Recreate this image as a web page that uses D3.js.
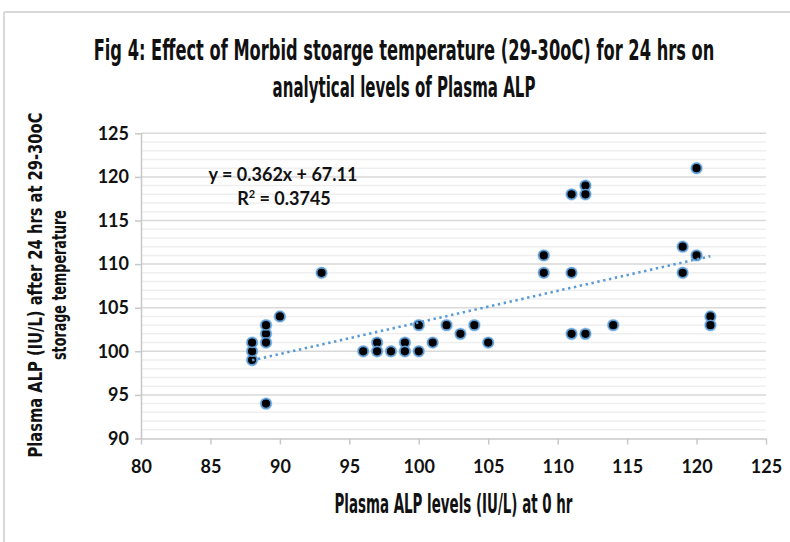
<!DOCTYPE html>
<html>
<head>
<meta charset="utf-8">
<script src="https://cdn.jsdelivr.net/npm/d3@7"></script>
<style>
  body { margin: 0; background: #fff; }
  svg { display: block; }
</style>
</head>
<body>
<div id="chart"></div>
<script>
// values
var xValues = [88, 88, 88, 89, 89, 89, 89, 90, 93, 96, 97, 97, 98, 99, 99, 100, 100, 101, 102, 103, 104, 105, 109, 109, 111, 111, 111, 112, 112, 112, 114, 119, 119, 120, 120, 121, 121];
var yValues = [99, 100, 101, 94, 102, 101, 103, 104, 109, 100, 101, 100, 100, 101, 100, 103, 100, 101, 103, 102, 103, 101, 111, 109, 118, 109, 102, 119, 118, 102, 103, 112, 109, 121, 111, 104, 103];
var xTicks = [80, 85, 90, 95, 100, 105, 110, 115, 120, 125];
var yTicks = [90, 95, 100, 105, 110, 115, 120, 125];
var trendSlope = 0.362;
var trendIntercept = 67.11;
var trendLabel = "y = 0.362x + 67.11";
var r2Label = "0.3745";
var titleLines = ["Fig 4: Effect of Morbid stoarge temperature (29-30oC) for 24 hrs on", "analytical levels of Plasma ALP"];
var xTitle = "Plasma ALP levels (IU/L) at 0 hr";
var yTitleLines = ["Plasma ALP (IU/L) after 24 hrs at 29-30oC", "storage temperature"];

var width = 790, height = 542;
var narrow = "'Liberation Sans Narrow', 'DejaVu Sans Condensed', 'Roboto Condensed', Roboto, sans-serif";
var labelFont = "Lato, 'Open Sans', sans-serif";
var blue = "#5b9bd5";

var svg = d3.select("#chart").append("svg")
	.attr("width", width)
	.attr("height", height);

/**
 * squeeze a text horizontally so it spans the given width
 * (the original uses a very condensed face we do not have)
 **/
function squeeze(text, x, y, w, rotate) {
	var len = text.node().getComputedTextLength();
	var s = w / len;
	text.attr("x", 0).attr("y", 0)
		.attr("transform", "translate(" + x + "," + y + ")" + (rotate ? " rotate(-90)" : "") + " scale(" + s + ",1)");
}

// outer frame (only top and left edges are visible)
svg.append("line").attr("x1", 4).attr("x2", width).attr("y1", 12).attr("y2", 12)
	.attr("stroke", "#d9d9d9").attr("stroke-width", 2);
svg.append("line").attr("x1", 4).attr("x2", 4).attr("y1", 12).attr("y2", height)
	.attr("stroke", "#d9d9d9").attr("stroke-width", 2);

var x = d3.scaleLinear().domain([80, 125]).range([141, 766]);
var y = d3.scaleLinear().domain([90, 125]).range([438.5, 133.3]);

// minor gridlines, one per unit
var minor = d3.range(91, 125).filter(function(v) { return v % 5 !== 0; });
svg.append("g").selectAll("line").data(minor).enter().append("line")
	.attr("x1", x(80)).attr("x2", x(125))
	.attr("y1", function(d) { return y(d); })
	.attr("y2", function(d) { return y(d); })
	.attr("stroke", "#efefef").attr("stroke-width", 1.5);

// major gridlines
svg.append("g").selectAll("line").data(yTicks.filter(function(v) { return v > 90; })).enter().append("line")
	.attr("x1", x(80)).attr("x2", x(125))
	.attr("y1", function(d) { return y(d); })
	.attr("y2", function(d) { return y(d); })
	.attr("stroke", "#d9d9d9").attr("stroke-width", 1.5);

// axes
var xAxis = svg.append("g")
	.attr("transform", "translate(0," + y(90) + ")")
	.call(d3.axisBottom(x).tickValues(xTicks).tickSize(6).tickSizeOuter(0));
var yAxis = svg.append("g")
	.attr("transform", "translate(" + x(80) + ",0)")
	.call(d3.axisLeft(y).tickValues(yTicks).tickSize(6).tickSizeOuter(0));

[xAxis, yAxis].forEach(function(a) {
	a.select(".domain").attr("stroke", "#c8c8c8").attr("stroke-width", 1.5);
	a.selectAll(".tick line").attr("stroke", "#c8c8c8").attr("stroke-width", 1.5);
	a.selectAll(".tick text")
		.attr("font-family", labelFont)
		.attr("font-size", 18)
		.attr("font-weight", "bold")
		.attr("fill", "#111");
});
xAxis.selectAll(".tick text").attr("y", 22);
yAxis.selectAll(".tick text").attr("x", -12);

// markers
var points = xValues.map(function(v, i) { return {x: v, y: yValues[i]}; });
var marks = svg.append("g");
marks.selectAll("circle.halo").data(points).enter().append("circle")
	.attr("class", "halo")
	.attr("cx", function(d) { return x(d.x); })
	.attr("cy", function(d) { return y(d.y); })
	.attr("r", 6.4)
	.attr("fill", "#bdd7ee");
marks.selectAll("circle.dot").data(points).enter().append("circle")
	.attr("class", "dot")
	.attr("cx", function(d) { return x(d.x); })
	.attr("cy", function(d) { return y(d.y); })
	.attr("r", 4.9)
	.attr("fill", "#000")
	.attr("stroke", blue)
	.attr("stroke-width", 1.6);

// linear trendline over the data range
var xExtent = d3.extent(xValues);
var trend = xExtent.map(function(v) { return [v, trendSlope * v + trendIntercept]; });
svg.append("path")
	.datum(trend)
	.attr("d", d3.line().x(function(d) { return x(d[0]); }).y(function(d) { return y(d[1]); }))
	.attr("fill", "none")
	.attr("stroke", blue)
	.attr("stroke-width", 2.6)
	.attr("stroke-dasharray", "2.4,3.6");

// equation label
var eq = svg.append("g")
	.attr("font-family", labelFont)
	.attr("font-size", 18)
	.attr("font-weight", "bold")
	.attr("fill", "#111")
	.attr("text-anchor", "middle");
eq.append("text").attr("x", 283).attr("y", 181).text(trendLabel);
var r2 = eq.append("text").attr("x", 284).attr("y", 205);
r2.append("tspan").text("R");
r2.append("tspan").attr("font-size", 11).attr("dy", -7).text("2");
r2.append("tspan").attr("dy", 7).text(" = " + r2Label);

// title
var titleWidths = [621, 263];
svg.append("g").selectAll("text").data(titleLines).enter().append("text")
	.attr("text-anchor", "middle")
	.attr("font-family", narrow)
	.attr("font-size", 29)
	.attr("font-weight", "bold")
	.attr("fill", "#111")
	.text(function(d) { return d; })
	.each(function(d, i) { squeeze(d3.select(this), 404, 60 + i * 36.7, titleWidths[i], false); });

// x axis title
var xt = svg.append("text")
	.attr("text-anchor", "middle")
	.attr("font-family", narrow)
	.attr("font-size", 26)
	.attr("font-weight", "bold")
	.attr("fill", "#111")
	.text(xTitle);
squeeze(xt, 453.5, 513, 238, false);

// y axis title, two rotated lines
var yTitleWidths = [345, 150];
var yTitleBase = [41.5, 66];
svg.append("g").selectAll("text").data(yTitleLines).enter().append("text")
	.attr("text-anchor", "middle")
	.attr("font-family", narrow)
	.attr("font-size", 19)
	.attr("font-weight", "bold")
	.attr("fill", "#111")
	.text(function(d) { return d; })
	.each(function(d, i) { squeeze(d3.select(this), yTitleBase[i], 285, yTitleWidths[i], true); });
</script>
</body>
</html>
